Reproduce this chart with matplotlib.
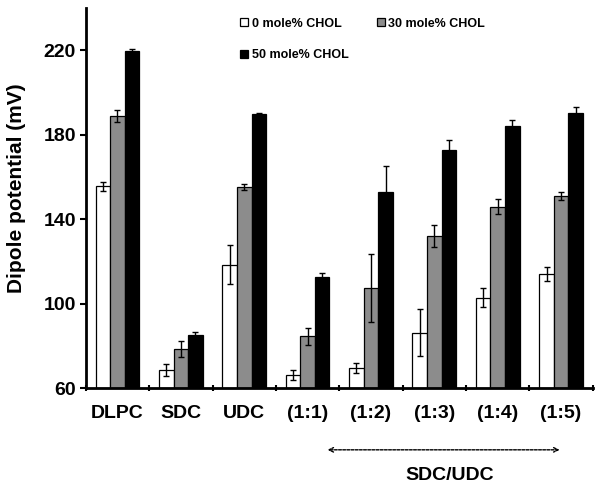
import numpy as np
from matplotlib import pyplot as plt
from matplotlib import transforms

groups = ['DLPC', 'SDC', 'UDC', '(1:1)', '(1:2)', '(1:3)', '(1:4)', '(1:5)']
series = ['0 mole% CHOL', '30 mole% CHOL', '50 mole% CHOL']
chol0 = [155.5, 68.5, 118.5, 66.2, 69.5, 86.2, 102.7, 114.0]
chol0_err = [2.0, 3.0, 9.0, 2.5, 2.5, 11.0, 4.5, 3.5]
chol30 = [188.8, 78.5, 155.3, 84.6, 107.5, 132.0, 145.8, 151.0]
chol30_err = [3.0, 4.0, 1.5, 4.0, 16.0, 5.0, 3.5, 2.0]
chol50 = [219.5, 85.2, 189.7, 112.4, 153.0, 172.8, 184.0, 190.0]
chol50_err = [1.0, 1.5, 0.5, 2.0, 12.0, 4.5, 3.0, 3.0]

plt.rcParams['font.family'] = ['Liberation Sans', 'DejaVu Sans']
plt.rcParams['font.weight'] = 'bold'

fig = plt.figure(figsize=(6, 4.9), dpi=100)
ax = fig.add_axes([0.143, 0.208, 0.845, 0.776])

x = np.arange(len(groups))
w = 0.23
colors = ['white', '#8c8c8c', 'black']
vals = [chol0, chol30, chol50]
errs = [chol0_err, chol30_err, chol50_err]
bars = []
for i in range(3):
    b = ax.bar(x + (i - 1) * w, np.array(vals[i]) - 60, w, bottom=60,
               color=colors[i], edgecolor='black', linewidth=0.9, label=series[i],
               yerr=errs[i], error_kw=dict(ecolor='black', elinewidth=1, capsize=2.5, capthick=1))
    bars.append(b)

ax.set_ylim(60, 240)
ax.set_xlim(-0.5, len(groups) - 0.5)
ax.set_yticks([60, 100, 140, 180, 220])
ax.set_xticks(x)
ax.set_xticklabels(groups)
ax.set_xticks(np.arange(len(groups) + 1) - 0.5, minor=True)
ax.tick_params(axis='x', which='major', length=0, pad=12, labelsize=14)
ax.tick_params(axis='x', which='minor', length=4, width=1.5, direction='inout')
ax.tick_params(axis='y', length=4, width=1.5, labelsize=14, pad=3)
for t in ax.get_xticklabels() + ax.get_yticklabels():
    t.set_fontweight('bold')
ax.set_ylabel('Dipole potential (mV)', fontsize=15, fontweight='bold')
ax.yaxis.set_label_coords(-0.118, 0.526)

ax.spines['top'].set_visible(False)
ax.spines['right'].set_visible(False)
ax.spines['left'].set_linewidth(2)
ax.spines['bottom'].set_linewidth(2)

# legend order so row 1 = 0 & 30, row 2 = 50
order = [0, 2, 1]
ax.legend([bars[k] for k in order], [series[k] for k in order],
          loc='upper left', bbox_to_anchor=(0.285, 1.0), ncol=2, frameon=False,
          prop=dict(size=9, weight='bold'), handlelength=0.6, handleheight=0.6,
          handletextpad=0.3, columnspacing=2.3, labelspacing=1.55, borderpad=0.3)

# SDC/UDC arrow under the mixture groups
trans = transforms.blended_transform_factory(ax.transData, fig.transFigure)
ax.annotate('', xy=(3.27, 0.082), xycoords=trans,
            xytext=(7.02, 0.082), textcoords=trans,
            arrowprops=dict(arrowstyle='<->', linestyle=(0, (2, 1)), color='black', lw=1,
                            mutation_scale=8))
ax.text(5.24, 0.03, 'SDC/UDC', transform=trans,
        ha='center', va='center', fontsize=14, fontweight='bold')

fig.savefig('out.png', dpi=100)
